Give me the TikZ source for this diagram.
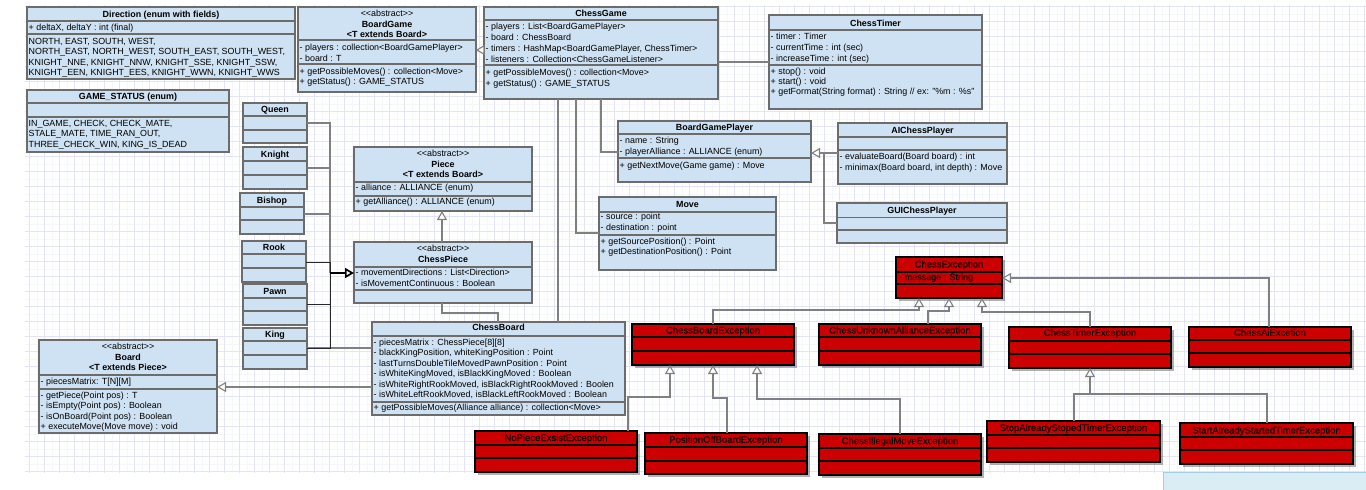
\documentclass[tikz,border=0pt]{standalone}
\usepackage{fontspec}
\setmainfont{Liberation Sans}
\newfontfamily\excfont{Liberation Sans}[FakeBold=0.35]
\usetikzlibrary{arrows.meta,shadows}

\definecolor{clsfill}{RGB}{207,226,243}
\definecolor{clsline}{RGB}{108,108,108}
\definecolor{excfill}{RGB}{204,0,0}
\definecolor{exctext}{RGB}{20,0,0}
\definecolor{wire}{RGB}{128,128,128}
\definecolor{wiredark}{RGB}{40,40,40}
\definecolor{gridmajor}{RGB}{228,228,248}
\definecolor{gridminor}{RGB}{246,246,253}
\definecolor{panelfill}{RGB}{218,236,244}
\definecolor{panelline}{RGB}{165,205,228}

\tikzset{
  cls/.style={rectangle, draw=clsline, fill=clsfill, line width=1.3pt,
    inner sep=0pt, outer sep=0pt, anchor=north west},
  exc/.style={rectangle, draw=black, fill=excfill, line width=1.3pt,
    inner sep=0pt, outer sep=0pt, anchor=north west,
    drop shadow={shadow xshift=2.5pt, shadow yshift=-2.5pt, fill=black, opacity=0.3}},
  clssep/.style={draw=clsline, line width=1.3pt},
  excsep/.style={draw=black, line width=1.3pt},
  ttl/.style={font=\bfseries\fontsize{8.9}{10}\selectfont, inner sep=0pt, anchor=base},
  stereo/.style={font=\fontsize{8.9}{10}\selectfont, inner sep=0pt, anchor=base},
  row/.style={font=\fontsize{8.9}{10}\selectfont, inner sep=0pt, anchor=base west},
  exctitle/.style={font=\excfont\fontsize{9.5}{10}\selectfont, text=exctext, inner sep=0pt, anchor=base},
  excrow/.style={font=\excfont\fontsize{9}{10}\selectfont, text=exctext, inner sep=0pt, anchor=base west},
  assoc/.style={draw=wire, line width=1.1pt},
  assocdark/.style={draw=wiredark, line width=1pt},
  inherit/.style={draw=wire, line width=1.1pt,
    -{Triangle[length=9pt, width=10pt, fill=white]}},
}

% class box from its corners: name, x1, y1, x2, y2, style
\newcommand{\umlbox}[6]{\node[#6, minimum width={(#4)-(#2)}, minimum height={(#5)-(#3)}] (#1) at (#2,#3) {};}
% compartment divider: style, box, y
\newcommand{\divider}[3]{\draw[#1] (#2.west |- 0,#3) -- (#2.east |- 0,#3);}
% left aligned text rows: name, x, first baseline, step, list
\newcommand{\rows}[5]{\foreach \t [count=\i] in {#5}{\node[row] (#1-\i) at (#2,{#3+(\i-1)*#4}) {\t};}}
\newcommand{\excrows}[5]{\foreach \t [count=\i] in {#5}{\node[excrow] (#1-\i) at (#2,{#3+(\i-1)*#4}) {\t};}}
% stereotype text, kept apart from the << >> ligatures
\newcommand{\abstractmark}{<{}<abstract>{}>}

\begin{document}
\begin{tikzpicture}[x=1pt, y=-1pt]
\useasboundingbox (0,0) rectangle (1366,490);
\fill[white] (0,0) rectangle (1366,490);

% drawing-sheet grid
\begin{scope}
\clip (25,5) rectangle (1366,473);
\foreach \k in {0,...,90} {\draw[gridminor, line width=0.6pt] ({21.8+15*\k},5) -- ({21.8+15*\k},473);}
\foreach \k in {0,...,31} {\draw[gridminor, line width=0.6pt] (25,{14.2+15*\k}) -- (1366,{14.2+15*\k});}
\foreach \k in {0,...,90} {\draw[gridmajor, line width=0.8pt] ({29.3+15*\k},5) -- ({29.3+15*\k},473);}
\foreach \k in {0,...,31} {\draw[gridmajor, line width=0.8pt] (25,{6.7+15*\k}) -- (1366,{6.7+15*\k});}
\end{scope}
\draw[fill=panelfill, draw=panelline, line width=0.8pt] (1163,472) rectangle (1367,491);

% ---------------- enums ----------------
\umlbox{direction}{27}{7}{295}{79}{cls}
\divider{clssep}{direction}{21}
\divider{clssep}{direction}{34}
\node[ttl] (direction-title) at (161,17) {Direction (enum with fields)};
\rows{direction-attr}{28.5}{30.5}{10}{{+ deltaX, deltaY : int (final)}}
\rows{direction-val}{28.5}{44}{10.5}{{NORTH, EAST, SOUTH, WEST,},{NORTH\_EAST, NORTH\_WEST, SOUTH\_EAST, SOUTH\_WEST,},{KNIGHT\_NNE, KNIGHT\_NNW, KNIGHT\_SSE, KNIGHT\_SSW,},{KNIGHT\_EEN, KNIGHT\_EES, KNIGHT\_WWN, KNIGHT\_WWS}}

\umlbox{gamestatus}{27}{90}{229}{152}{cls}
\divider{clssep}{gamestatus}{103}
\divider{clssep}{gamestatus}{117}
\node[ttl] (gamestatus-title) at (128,99.5) {GAME\_STATUS (enum)};
\rows{gamestatus-val}{28.5}{126}{10.7}{{IN\_GAME, CHECK, CHECK\_MATE,},{STALE\_MATE, TIME\_RAN\_OUT,},{THREE\_CHECK\_WIN, KING\_IS\_DEAD}}

% ---------------- game ----------------
\umlbox{boardgame}{298}{7}{476}{92}{cls}
\divider{clssep}{boardgame}{40}
\divider{clssep}{boardgame}{64}
\node[stereo] (boardgame-stereo) at (387,16.5) {\abstractmark};
\node[ttl] (boardgame-title) at (387,27) {BoardGame};
\node[ttl] (boardgame-param) at (387,37) {<T extends Board>};
\rows{boardgame-attr}{299.5}{50}{11}{{- players : collection<BoardGamePlayer>},{- board : T}}
\rows{boardgame-op}{299.5}{74}{10.7}{{+ getPossibleMoves() : collection<Move>},{+ getStatus() : GAME\_STATUS}}

\umlbox{chessgame}{484}{7}{718}{99}{cls}
\divider{clssep}{chessgame}{20}
\divider{clssep}{chessgame}{65}
\node[ttl] (chessgame-title) at (601,16.5) {ChessGame};
\rows{chessgame-attr}{485.5}{29.5}{10.9}{{- players : List<BoardGamePlayer>},{- board : ChessBoard},{- timers : HashMap<BoardGamePlayer, ChessTimer>},{- listeners : Collection<ChessGameListener>}}
\rows{chessgame-op}{485.5}{75}{11}{{+ getPossibleMoves() : collection<Move>},{+ getStatus() : GAME\_STATUS}}

\umlbox{chesstimer}{769}{15}{982}{109}{cls}
\divider{clssep}{chesstimer}{30}
\divider{clssep}{chesstimer}{65}
\node[ttl] (chesstimer-title) at (875.5,26.5) {ChessTimer};
\rows{chesstimer-attr}{770.5}{39.7}{10.8}{{- timer : Timer},{- currentTime : int (sec)},{- increaseTime : int (sec)}}
\rows{chesstimer-op}{770.5}{74}{10}{{+ stop() : void},{+ start() : void},{+ getFormat(String format) : String // ex: "\%m : \%s"}}

% ---------------- pieces ----------------
\umlbox{queen}{243}{103}{307}{143}{cls}
\divider{clssep}{queen}{116}
\divider{clssep}{queen}{130}
\node[ttl] (queen-title) at (275,112.8) {Queen};

\umlbox{knight}{243}{147}{307}{189}{cls}
\divider{clssep}{knight}{161}
\divider{clssep}{knight}{175}
\node[ttl] (knight-title) at (275,157.3) {Knight};

\umlbox{bishop}{240}{193}{304}{234}{cls}
\divider{clssep}{bishop}{207}
\divider{clssep}{bishop}{220}
\node[ttl] (bishop-title) at (272,203.3) {Bishop};

\umlbox{rook}{242}{241}{306}{282}{cls}
\divider{clssep}{rook}{254}
\divider{clssep}{rook}{268}
\node[ttl] (rook-title) at (274,250.8) {Rook};

\umlbox{pawn}{243}{284}{307}{325}{cls}
\divider{clssep}{pawn}{298}
\divider{clssep}{pawn}{311}
\node[ttl] (pawn-title) at (275,294.3) {Pawn};

\umlbox{king}{243}{328}{307}{369}{cls}
\divider{clssep}{king}{341}
\divider{clssep}{king}{355}
\node[ttl] (king-title) at (275,337.8) {King};

\umlbox{piece}{354}{147}{532}{211}{cls}
\divider{clssep}{piece}{182}
\divider{clssep}{piece}{196}
\node[stereo] (piece-stereo) at (443,156.3) {\abstractmark};
\node[ttl] (piece-title) at (443,167.7) {Piece};
\node[ttl] (piece-param) at (443,177.7) {<T extends Board>};
\rows{piece-attr}{355.5}{190.7}{11}{{- alliance : ALLIANCE (enum)}}
\rows{piece-op}{355.5}{204.7}{11}{{+ getAlliance() : ALLIANCE (enum)}}

\umlbox{chesspiece}{354}{242}{532}{303}{cls}
\divider{clssep}{chesspiece}{267}
\divider{clssep}{chesspiece}{290}
\node[stereo] (chesspiece-stereo) at (443,251.3) {\abstractmark};
\node[ttl] (chesspiece-title) at (443,262.7) {ChessPiece};
\rows{chesspiece-attr}{355.5}{275.7}{11}{{- movementDirections : List<Direction>},{- isMovementContinuous : Boolean}}

% ---------------- players and moves ----------------
\umlbox{bgp}{618}{121}{811}{182}{cls}
\divider{clssep}{bgp}{134}
\divider{clssep}{bgp}{158}
\node[ttl] (bgp-title) at (714.5,130.7) {BoardGamePlayer};
\rows{bgp-attr}{619.5}{143.7}{11}{{- name : String},{- playerAlliance : ALLIANCE (enum)}}
\rows{bgp-op}{619.5}{168}{11}{{+ getNextMove(Game game) : Move}}

\umlbox{aiplayer}{838}{123}{1007}{184}{cls}
\divider{clssep}{aiplayer}{137}
\divider{clssep}{aiplayer}{150}
\node[ttl] (aiplayer-title) at (922.5,133) {AIChessPlayer};
\rows{aiplayer-op}{839.5}{159.7}{11}{{- evaluateBoard(Board board) : int},{- minimax(Board board, int depth) : Move}}

\umlbox{guiplayer}{837}{203}{1007}{243}{cls}
\divider{clssep}{guiplayer}{217.5}
\divider{clssep}{guiplayer}{230}
\node[ttl] (guiplayer-title) at (922,213) {GUIChessPlayer};

\umlbox{move}{599}{197}{776}{270}{cls}
\divider{clssep}{move}{212}
\divider{clssep}{move}{235}
\node[ttl] (move-title) at (687.5,207.5) {Move};
\rows{move-attr}{600.5}{219.7}{11}{{- source : point},{- destination : point}}
\rows{move-op}{600.5}{244}{10.7}{{+ getSourcePosition() : Point},{+ getDestinationPosition() : Point}}

% ---------------- boards ----------------
\umlbox{chessboard}{372}{322}{625}{415}{cls}
\divider{clssep}{chessboard}{336}
\divider{clssep}{chessboard}{402}
\node[ttl] (chessboard-title) at (498.5,330.8) {ChessBoard};
\rows{chessboard-attr}{373.5}{345.5}{10.4}{{- piecesMatrix : ChessPiece[8][8]},{- blackKingPosition, whiteKingPosition : Point},{- lastTurnsDoubleTileMovedPawnPosition : Point},{- isWhiteKingMoved, isBlackKingMoved : Boolean},{- isWhiteRightRookMoved, isBlackRightRookMoved : Boolen},{- isWhiteLeftRookMoved, isBlackLeftRookMoved : Boolean}}
\rows{chessboard-op}{373.5}{410.8}{11}{{+ getPossibleMoves(Alliance alliance) : collection<Move>}}

\umlbox{board}{39}{340}{217}{433}{cls}
\divider{clssep}{board}{375}
\divider{clssep}{board}{389}
\node[stereo] (board-stereo) at (128,349.7) {\abstractmark};
\node[ttl] (board-title) at (128,360.7) {Board};
\node[ttl] (board-param) at (128,370.7) {<T extends Piece>};
\rows{board-attr}{40.5}{384.7}{11}{{- piecesMatrix: T[N][M]}}
\rows{board-op}{40.5}{398}{10.5}{{- getPiece(Point pos) : T},{- isEmpty(Point pos) : Boolean},{- isOnBoard(Point pos) : Boolean},{+ executeMove(Move move) : void}}

% ---------------- exceptions ----------------
\umlbox{chessexc}{896}{257}{1002}{298}{exc}
\divider{excsep}{chessexc}{272}
\divider{excsep}{chessexc}{284}
\node[exctitle] (chessexc-title) at (949,267.5) {ChessException};
\excrows{chessexc-attr}{899}{280}{11}{{- message : String}}

\umlbox{boardexc}{632}{324}{794}{365}{exc}
\divider{excsep}{boardexc}{337}
\divider{excsep}{boardexc}{351}
\node[exctitle] (boardexc-title) at (713,333.5) {ChessBoardException};

\umlbox{allianceexc}{819}{324}{981}{365}{exc}
\divider{excsep}{allianceexc}{337}
\divider{excsep}{allianceexc}{351}
\node[exctitle] (allianceexc-title) at (900,333.5) {ChessUnknownAllianceException};

\umlbox{timerexc}{1009}{327}{1171}{368}{exc}
\divider{excsep}{timerexc}{341}
\divider{excsep}{timerexc}{354}
\node[exctitle] (timerexc-title) at (1090,335.8) {ChessTimerException};

\umlbox{aiexc}{1189}{327}{1351}{367}{exc}
\divider{excsep}{aiexc}{340}
\divider{excsep}{aiexc}{353}
\node[exctitle] (aiexc-title) at (1270,335.8) {ChessAiExcetion};

\umlbox{nopieceexc}{475}{431}{637}{472}{exc}
\divider{excsep}{nopieceexc}{445}
\divider{excsep}{nopieceexc}{458}
\node[exctitle] (nopieceexc-title) at (556,441) {NoPieceExsistException};

\umlbox{offboardexc}{645}{433}{807}{474}{exc}
\divider{excsep}{offboardexc}{447}
\divider{excsep}{offboardexc}{461}
\node[exctitle] (offboardexc-title) at (726,442.8) {PositionOffBoardException};

\umlbox{illegalexc}{819}{434}{981}{475}{exc}
\divider{excsep}{illegalexc}{448}
\divider{excsep}{illegalexc}{461}
\node[exctitle] (illegalexc-title) at (900,444) {ChessIllegalMoveException};

\umlbox{stopexc}{987}{421}{1160}{462}{exc}
\divider{excsep}{stopexc}{435}
\divider{excsep}{stopexc}{448}
\node[exctitle] (stopexc-title) at (1073.5,431) {StopAlreadyStopedTimerException};

\umlbox{startexc}{1180}{423}{1353}{464}{exc}
\divider{excsep}{startexc}{437}
\divider{excsep}{startexc}{450}
\node[exctitle] (startexc-title) at (1266.5,433.5) {StartAlreadyStartedTimerException};

% ---------------- connectors ----------------
% game
\draw[inherit, -{Triangle[length=8.5pt, width=10pt, fill=white]}] (chessgame.west |- 0,50) -- (boardgame.east |- 0,50);
\draw[assoc] (chessgame.east |- 0,62) -- (chesstimer.west |- 0,62);
\draw[assoc] (chessgame.south -| 601,0) |- (bgp.west |- 0,152);
\draw[assoc] (chessgame.south -| 576,0) |- (move.west |- 0,233);
\draw[assoc] (chessgame.south -| 558,0) -- (chessboard.north -| 558,0);

% players
\coordinate (playerjoin) at (824,153);
\draw[inherit] (aiplayer.west |- playerjoin) -- (bgp.east |- playerjoin);
\draw[assoc] (guiplayer.west |- 0,223) -| (playerjoin);

% pieces
\draw[inherit] (chesspiece.north -| 442,0) -- (piece.south -| 442,0);
\coordinate (piecebus) at (330,273);
\draw[assoc] (queen.east |- 0,123) -| (piecebus);
\draw[assoc] (knight.east |- 0,168) -| (piecebus);
\draw[assoc] (bishop.east |- 0,214) -| (piecebus);
\draw[assocdark] (rook.east |- 0,262) -| (piecebus);
\draw[assocdark] (pawn.east |- 0,304) -| (piecebus);
\draw[assoc] (king.east |- 0,348) -- (chessboard.west |- 0,348);
\draw[assocdark] (king.east |- 0,348) -| (piecebus);
\draw[inherit, draw=black, line width=1.7pt] (piecebus) -- (chesspiece.west |- piecebus);
\draw[assoc] (chesspiece.south -| 442,0) |- (498,313) -- (chessboard.north -| 498,0);

% boards
\draw[inherit] (chessboard.west |- 0,387) -- (board.east |- 0,387);

% exceptions
\draw[inherit] (boardexc.north -| 713,0) |- (919,310) -- (chessexc.south -| 919,0);
\draw[inherit] (allianceexc.north -| 928,0) |- (949,311) -- (chessexc.south -| 949,0);
\draw[inherit] (timerexc.north -| 1090,0) |- (982,312) -- (chessexc.south -| 982,0);
\draw[inherit] (aiexc.north -| 1269,0) |- (chessexc.east |- 0,278);

\draw[inherit] (nopieceexc.north -| 628,0) |- (670,397) -- (boardexc.south -| 670,0);
\draw[inherit] (offboardexc.north -| 727,0) |- (713,398) -- (boardexc.south -| 713,0);
\draw[inherit] (illegalexc.north -| 900,0) |- (757,399) -- (boardexc.south -| 757,0);

\coordinate (timerjoin) at (1090,394);
\draw[assoc] (stopexc.north -| 1074,0) |- (timerjoin);
\draw[assoc] (startexc.north -| 1267,0) |- (timerjoin);
\draw[inherit] (timerjoin) -- (timerexc.south -| 1090,0);
\end{tikzpicture}
\end{document}
